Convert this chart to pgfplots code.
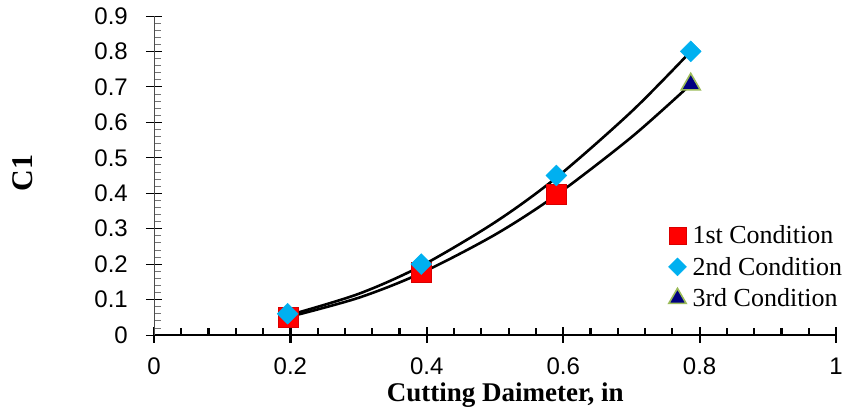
\documentclass[border=0pt]{standalone}
\usepackage{pgfplots}
\pgfplotsset{compat=1.18}
\usepackage{fontspec}
\setmainfont{Liberation Serif}
\newfontfamily\arial{Liberation Sans}
\definecolor{cyanD}{RGB}{0,176,240}
\definecolor{navyT}{RGB}{0,0,128}
\definecolor{greenB}{RGB}{155,187,89}
\begin{document}
\begin{tikzpicture}
\begin{axis}[
  scale only axis, width=682pt, height=319pt,
  xmin=0, xmax=1, ymin=0, ymax=0.9,
  axis lines*=left,
  x axis line style={-, line width=2.6pt, black},
  y axis line style={-, line width=0.8pt, black!70},
  xtick={0,0.2,0.4,0.6,0.8,1},
  ytick={0,0.1,...,0.9},
  minor x tick num=4, minor y tick num=4,
  tick align=center,
  major tick length=16pt, minor tick length=7pt,
  every major x tick/.style={line width=2.2pt, black},
  every minor x tick/.style={line width=2.2pt, black, yshift=3.5pt},
  every major y tick/.style={line width=0.8pt, black},
  every minor y tick/.style={line width=0.8pt, black!55, xshift=3.5pt},
  /pgf/number format/assume math mode=true,
  /pgf/number format/fixed,
  ticklabel style={font=\arial\fontsize{24}{28}\selectfont},
  xticklabel style={anchor=center, inner sep=0pt, yshift=-23.5pt},
  yticklabel style={anchor=east, inner sep=0pt, xshift=-18pt},
  xlabel={\bfseries Cutting Daimeter, in},
  ylabel={\bfseries C1},
  xlabel style={font=\fontsize{27}{30}\selectfont, at={(rel axis cs:0.515,0)}, anchor=center, yshift=-60pt},
  ylabel style={font=\fontsize{30}{32}\selectfont, at={(rel axis cs:0,0.508)}, anchor=center, yshift=131.5pt},
  legend style={draw=none, fill=none, at={(rel axis cs:0.754,0.35)}, anchor=north west,
    font=\fontsize{26}{30}\selectfont, row sep=8pt, inner sep=0pt},
  legend cell align=left,
  clip=false,
]
\coordinate (O) at (rel axis cs:0,0);
\coordinate (T) at (rel axis cs:1,1);
\addplot[only marks, mark=square*, mark size=10pt, color=red, mark options={fill=red, draw=red!85!black, line width=0.3pt},
  legend image post style={mark size=8.5pt}]
  coordinates {(0.196,0.05) (0.392,0.177) (0.59,0.397)};
\addlegendentry{\hspace{4pt}1st Condition}
\addplot[only marks, mark=square*, mark size=7.4pt, color=cyanD, mark options={fill=cyanD, draw=cyanD, rotate=45},
  legend image post style={mark size=6.4pt}]
  coordinates {(0.196,0.06) (0.392,0.20) (0.59,0.45) (0.787,0.80)};
\addlegendentry{\hspace{4pt}2nd Condition}
\addplot[only marks, mark=triangle*, mark size=11pt, mark options={fill=navyT, draw=greenB, line width=1.6pt},
  legend image post style={mark size=10pt}]
  coordinates {(0.787,0.707)};
\addlegendentry{\hspace{4pt}3rd Condition}
\addplot[smooth, black, line width=2.6pt, forget plot]
  coordinates {(0.196,0.055) (0.3,0.116) (0.392,0.195) (0.5,0.318) (0.59,0.444) (0.7,0.630) (0.787,0.80)};
\addplot[smooth, black, line width=2.6pt, forget plot]
  coordinates {(0.196,0.05) (0.3,0.105) (0.392,0.175) (0.5,0.283) (0.59,0.395) (0.7,0.558) (0.787,0.707)};
\end{axis}
\pgfresetboundingbox
\path ([shift={(-154pt,-79pt)}]O) rectangle ([shift={(9pt,16pt)}]T);
\end{tikzpicture}
\end{document}
